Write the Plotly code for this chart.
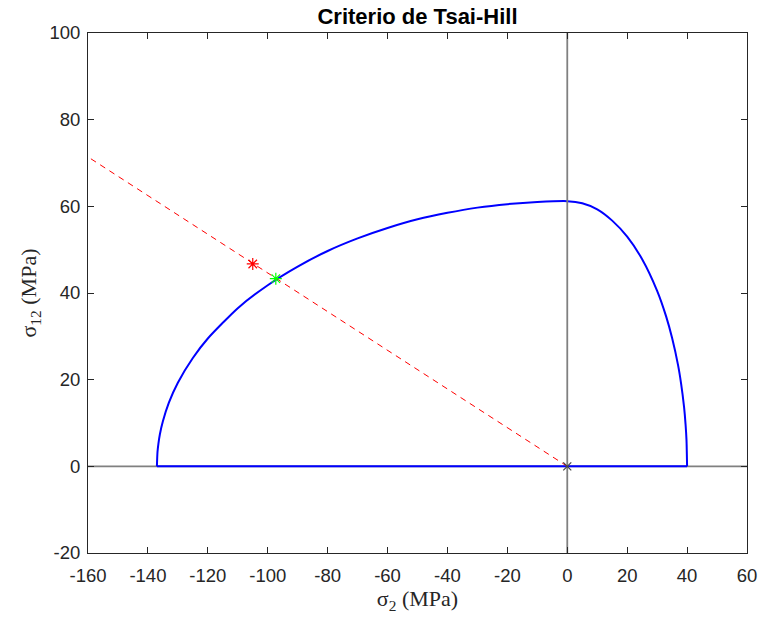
import plotly.graph_objects as go

# Envelope (sigma_2, sigma_12) in MPa
env_x = [-137, -136.8, -136.5, -136, -135, -133, -130, -125, -120, -110, -100, -90, -80, -70, -60, -50, -40, -30, -20, -10, 0,
         5, 10, 15, 20, 25, 30, 33, 35, 37, 38, 39, 39.5, 39.8, 40]
env_y = [0, 3.3, 5.2, 7.4, 10.4, 14.7, 19.3, 25.0, 29.5, 36.5, 41.8, 46.1, 49.7, 52.6, 55.0, 57.0, 58.5, 59.7, 60.5, 61.0, 61.2,
         60.7, 59.3, 56.7, 53.0, 47.8, 40.5, 34.6, 29.6, 23.3, 19.1, 13.6, 9.6, 6.1, 0]
base_x = [-137, 40]
base_y = [0, 0]

load_x = [0, -160]
load_y = [0, 71.4]
applied = (-105, 46.7)
failure = (-97.3, 43.3)
origin = (0, 0)

xticks = list(range(-160, 61, 20))
yticks = list(range(-20, 101, 20))

fig = go.Figure()
# horizontal axis line (under the envelope)
fig.add_trace(go.Scatter(x=[-160, 60], y=[0, 0], mode="lines", line=dict(color="#808080", width=1.8)))
fig.add_trace(go.Scatter(x=env_x, y=env_y, mode="lines", line=dict(color="#0000ff", width=2, shape="spline", smoothing=0.6), hoverinfo="skip"))
fig.add_trace(go.Scatter(x=base_x, y=base_y, mode="lines", line=dict(color="#0000ff", width=2), hoverinfo="skip"))
fig.add_trace(go.Scatter(x=load_x, y=load_y, mode="lines", line=dict(color="#ff0000", width=1, dash="6px,5px")))
# vertical axis line (over the envelope)
fig.add_trace(go.Scatter(x=[0, 0], y=[-20, 100], mode="lines", line=dict(color="#808080", width=1.8)))
fig.add_trace(go.Scatter(x=[applied[0]], y=[applied[1]], mode="markers",
                         marker=dict(symbol="asterisk", size=10, line=dict(color="#ff0000", width=1.2))))
fig.add_trace(go.Scatter(x=[failure[0]], y=[failure[1]], mode="markers",
                         marker=dict(symbol="asterisk", size=10, line=dict(color="#00ff00", width=1.2))))
fig.add_trace(go.Scatter(x=[origin[0]], y=[origin[1]], mode="markers",
                         marker=dict(symbol="x-thin", size=8, line=dict(color="#444444", width=1.2))))

axis_common = dict(showgrid=False, zeroline=False, showline=True, linecolor="#262626", linewidth=1,
                   mirror="ticks", ticks="inside", ticklen=6, tickcolor="#262626", automargin=False,
                   tickfont=dict(family="Liberation Sans, Arial", size=18.5, color="#262626"))
fig.update_xaxes(range=[-160, 60], tickvals=xticks, ticktext=[str(v) for v in xticks], ticklabelstandoff=6,
                 title=dict(text="σ<sub>2</sub> (MPa)", font=dict(family="Liberation Serif, serif", size=22, color="#262626"), standoff=0),
                 **axis_common)
fig.update_yaxes(range=[-20, 100], tickvals=yticks, ticktext=[str(v) for v in yticks], ticklabelstandoff=3,
                 title=dict(text="σ<sub>12</sub> (MPa)", font=dict(family="Liberation Serif, serif", size=22, color="#262626"), standoff=6),
                 **axis_common)
fig.update_layout(width=760, height=617, showlegend=False, plot_bgcolor="white", paper_bgcolor="white",
                  margin=dict(l=88, r=13, t=33, b=64, autoexpand=False),
                  title=dict(text="<b>Criterio de Tsai-Hill</b>", x=0.5, xanchor="center", xref="paper",
                             y=1 - 16 / 617, yref="container", yanchor="middle",
                             font=dict(family="Liberation Sans, Arial", size=22, color="black")))
fig.write_html("out.html", config={"displayModeBar": False},
               post_script="document.body.style.margin='0px';document.body.style.padding='0px';")
